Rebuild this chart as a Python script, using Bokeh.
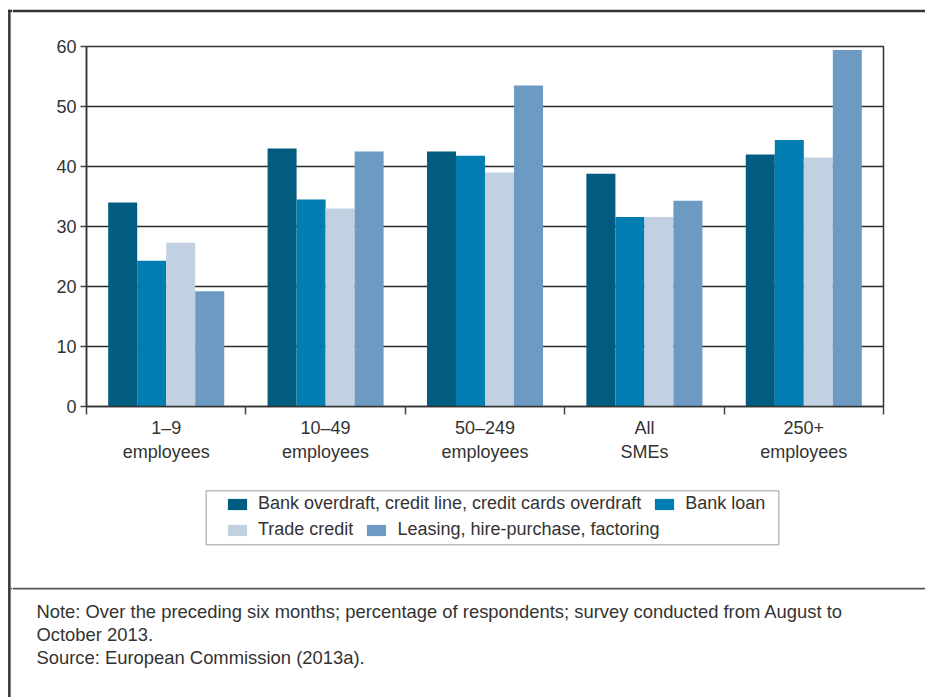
from bokeh.plotting import figure
from bokeh.layouts import row, column
from bokeh.models import (Range1d, FixedTicker, Legend, LegendItem, Label,
                          BoxAnnotation, Span, ColumnDataSource)
from bokeh.transform import dodge
from bokeh.embed import file_html
from bokeh.resources import INLINE

# ---------------- data ----------------
categories = ["1–9\nemployees", "10–49\nemployees", "50–249\nemployees",
              "All\nSMEs", "250+\nemployees"]
series_names = ["Bank overdraft, credit line, credit cards overdraft",
                "Bank loan", "Trade credit",
                "Leasing, hire-purchase, factoring"]
bank_overdraft = [34.0, 43.0, 42.5, 38.8, 42.0]
bank_loan = [24.3, 34.5, 41.8, 31.6, 44.4]
trade_credit = [27.3, 33.0, 39.0, 31.6, 41.5]
leasing = [19.2, 42.5, 53.5, 34.3, 59.4]
y_ticks = [0, 10, 20, 30, 40, 50, 60]
note_lines = [
    "Note: Over the preceding six months; percentage of respondents; survey conducted from August to",
    "October 2013.",
    "Source: European Commission (2013a).",
]

colors = ["#025c7f", "#017db1", "#c1d1e1", "#6d9ac3"]
FONT = "Liberation Sans"
TXT = "#333333"
LINE = "#333333"

PW, PH = 925, 697          # page size
LW = 12                    # left strip width
RW = PW - LW               # right column width
TH, CH = 20, 460           # top strip, chart heights
BH = PH - TH - CH          # bottom panel height


def deco_fig(w, h, x0, y0):
    """Blank figure whose data coordinates equal page pixels."""
    f = figure(width=w, height=h, output_backend="svg", toolbar_location=None,
               x_range=Range1d(x0, x0 + w), y_range=Range1d(y0 + h, y0),
               x_axis_type=None, y_axis_type=None, min_border=0,
               frame_align=False)
    f.title.visible = False
    f.outline_line_color = None
    f.background_fill_color = "white"
    f.border_fill_color = "white"
    return f


def box(f, l, r, t, b, col):
    f.add_layout(BoxAnnotation(left=l, right=r, top=t, bottom=b,
                               fill_color=col, fill_alpha=1, line_color=None))


# ---------------- left strip ----------------
fl = deco_fig(LW, PH, 0, 0)
box(fl, 7.6, 10.1, 9.3, PH, LINE)          # vertical frame line
box(fl, 7.6, LW, 9.3, 11.8, LINE)          # start of top line
box(fl, 10.1, LW, 587.2, 589.0, "#555555")  # start of separator

# ---------------- top strip ----------------
ft = deco_fig(RW, TH, LW, 0)
box(ft, LW, PW, 9.3, 11.8, LINE)

# ---------------- chart ----------------
FL, FR, FT, FB = 74, 871, 26, 386   # frame edges inside chart canvas
n = len(categories)
positions = list(range(n))

p = figure(width=RW, height=CH, output_backend="svg", toolbar_location=None,
           x_range=Range1d(-0.5, n - 0.5), y_range=Range1d(0, 60),
           min_border_left=FL, min_border_right=RW - FR,
           min_border_top=FT, min_border_bottom=CH - FB, frame_align=False)
p.title.visible = False
p.outline_line_color = LINE
p.outline_line_width = 1.5
p.background_fill_color = "white"
p.border_fill_color = "white"

bw = 0.182
series = [bank_overdraft, bank_loan, trade_credit, leasing]
sources = []
for i, (vals, col) in enumerate(zip(series, colors)):
    src = ColumnDataSource(dict(x=positions, top=vals))
    sources.append(src)
    p.vbar(x=dodge("x", (i - 1.5) * bw, range=p.x_range), top="top",
           width=bw, bottom=0, source=src, fill_color=col, line_color=None)

xa = p.xaxis[0]
xa.ticker = FixedTicker(ticks=positions,
                        minor_ticks=[k - 0.5 for k in range(n + 1)])
xa.major_label_overrides = {k: c for k, c in zip(positions, categories)}
xa.major_tick_out = 0
xa.major_tick_in = 0
xa.minor_tick_out = 8
xa.minor_tick_in = 0
xa.minor_tick_line_color = "#444444"
xa.minor_tick_line_width = 1.5
xa.axis_line_color = LINE
xa.axis_line_width = 1.5
xa.major_label_text_font = FONT
xa.major_label_text_font_size = "18px"
xa.major_label_text_color = TXT
xa.major_label_text_line_height = 1.2
xa.major_label_standoff = 3

ya = p.yaxis[0]
ya.ticker = FixedTicker(ticks=y_ticks)
ya.minor_tick_line_color = None
ya.major_tick_out = 6
ya.major_tick_in = 0
ya.major_tick_line_color = "#444444"
ya.major_tick_line_width = 1.5
ya.axis_line_color = LINE
ya.axis_line_width = 1.5
ya.major_label_text_font = FONT
ya.major_label_text_font_size = "18px"
ya.major_label_text_color = TXT
ya.major_label_standoff = 4

p.xgrid.visible = False
p.ygrid.ticker = FixedTicker(ticks=y_ticks)
p.ygrid.grid_line_color = "#2b2b2b"
p.ygrid.grid_line_width = 1.5

# ---------------- bottom panel: legend + note ----------------
Y0 = TH + CH
fb = deco_fig(RW, BH, LW, Y0)

# hidden renderers that carry the bar styles for the legend swatches
swatches = [fb.vbar(x="x", top="top", width=bw, source=src, fill_color=col,
                    line_color=None, visible=False)
            for src, col in zip(sources, colors)]

ROW_H = 18  # legend row height (location refers to the legend's lower edge)


def make_legend(idx, page_x, page_top):
    leg = Legend(items=[LegendItem(label=series_names[k], renderers=[swatches[k]])
                        for k in idx],
                 location=(page_x - LW, Y0 + BH - page_top - ROW_H),
                 orientation="horizontal",
                 glyph_width=24, glyph_height=14, label_height=14,
                 label_standoff=9, spacing=11,
                 padding=0, margin=0, border_line_alpha=0,
                 background_fill_alpha=0, inactive_fill_alpha=0,
                 label_text_font=FONT, label_text_font_size="18px",
                 label_text_color=TXT)
    fb.add_layout(leg)


make_legend([0, 1], 225, 496.3)
make_legend([2, 3], 225, 522.0)

fb.add_layout(BoxAnnotation(left=205.7, right=778.3, top=490.2, bottom=544.2,
                            fill_alpha=0, line_color="#222222", line_width=1.5))

fb.add_layout(Span(location=588.1, dimension="width", line_color="#555555",
                   line_width=1.8))

for k, line in enumerate(note_lines):
    fb.add_layout(Label(x=36, y=611 + k * 23, text=line,
                        text_baseline="middle", text_font=FONT,
                        text_font_size="18.4px", text_color=TXT))

layout = row(fl, column(ft, p, fb, spacing=0), spacing=0)
open("out.html", "w").write(file_html(layout, INLINE))
